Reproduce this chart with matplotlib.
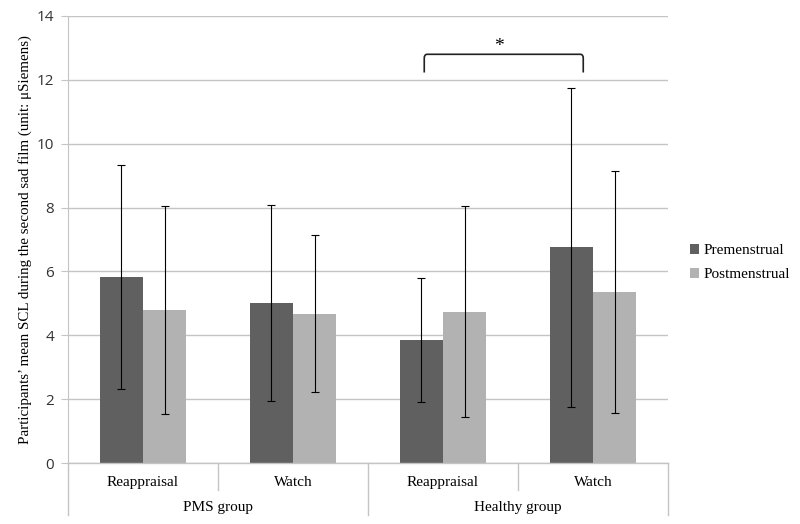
import matplotlib.pyplot as plt
import numpy as np
from matplotlib.path import Path
from matplotlib.patches import PathPatch

conditions = ["Reappraisal", "Watch", "Reappraisal", "Watch"]
groups = ["PMS group", "Healthy group"]
series = ["Premenstrual", "Postmenstrual"]

pre_mean = [5.82, 5.01, 3.85, 6.75]
pre_err = [3.50, 3.06, 1.93, 5.0]
post_mean = [4.79, 4.67, 4.74, 5.37]
post_err = [3.27, 2.46, 3.31, 3.79]

# significance bracket (data coords)
bracket_x = [1.875, 2.935]
bracket_y = [12.23, 12.8]

dark = "#606060"
light = "#b2b2b2"
grid = "#c4c4c4"
serif = "Liberation Serif"

fig = plt.figure(figsize=(8, 5.24), dpi=100)
ax = fig.add_axes([0.085, 0.1164, 0.75, 0.8531])

x = np.arange(len(conditions))
w = 0.287
ekw = dict(ecolor="black", elinewidth=0.8, capsize=3, capthick=0.8)
ax.bar(x - w / 2, pre_mean, w, color=dark, yerr=pre_err, error_kw=ekw,
       label=series[0], zorder=2)
ax.bar(x + w / 2, post_mean, w, color=light, yerr=post_err, error_kw=ekw,
       label=series[1], zorder=2)

ax.set_xlim(-0.5, 3.5)
ax.set_ylim(0, 14)
ax.set_yticks(range(0, 15, 2))
ax.yaxis.grid(True, color=grid, linewidth=1)
ax.set_axisbelow(True)
for s in ["top", "right", "bottom"]:
    ax.spines[s].set_visible(False)
ax.spines["left"].set_color(grid)
ax.tick_params(axis="y", length=5, color=grid, pad=5, labelsize=11,
               labelcolor="#333333")
for lab in ax.get_yticklabels():
    lab.set_fontfamily("Open Sans")

# x-axis: category labels and group labels
ax.set_xticks(x)
ax.set_xticklabels(conditions, fontfamily=serif, fontsize=11)
ax.tick_params(axis="x", length=0, pad=9)
tr = ax.get_xaxis_transform()
ax.plot([-0.5, 3.5], [0, 0], color=grid, lw=1, transform=tr, clip_on=False)
for b in [0.5, 2.5]:
    ax.plot([b, b], [0, -0.06], color=grid, lw=1, transform=tr, clip_on=False)
for b in [-0.5, 1.5, 3.5]:
    ax.plot([b, b], [0, -0.117], color=grid, lw=1, transform=tr, clip_on=False)
for i, g in enumerate(groups):
    ax.text(0.5 + 2 * i, -0.1, g, transform=tr, ha="center", va="center",
            fontfamily=serif, fontsize=11)

ax.set_ylabel("Participants\u2019 mean SCL during the second sad film (unit: \u03bcSiemens)",
              fontfamily=serif, fontsize=10.8)
ax.yaxis.set_label_coords(-0.06, 0.5)

# bracket with rounded corners
x0, x1 = bracket_x
yb, yt = bracket_y
rx, ry = 0.02, 0.12
verts = [(x0, yb), (x0, yt - ry), (x0, yt), (x0 + rx, yt),
         (x1 - rx, yt), (x1, yt), (x1, yt - ry), (x1, yb)]
codes = [Path.MOVETO, Path.LINETO, Path.CURVE3, Path.CURVE3,
         Path.LINETO, Path.CURVE3, Path.CURVE3, Path.LINETO]
ax.add_patch(PathPatch(Path(verts, codes), fill=False, lw=1.2,
                       edgecolor="#222222", clip_on=False))
ax.text((x0 + x1) / 2 - 0.03, yt - 0.02, "*", ha="center", va="bottom",
        fontfamily=serif, fontsize=14)

ax.legend(loc="center left", bbox_to_anchor=(1.013, 0.448), frameon=False,
          prop={"family": serif, "size": 11}, handlelength=0.6,
          handleheight=0.6, handletextpad=0.3, labelspacing=0.7)

fig.savefig("out.png", dpi=100)
